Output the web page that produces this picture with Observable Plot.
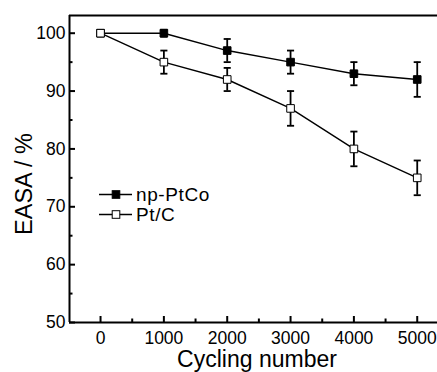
<!DOCTYPE html>
<html>
<head>
<meta charset="utf-8">
<script src="https://cdn.jsdelivr.net/npm/d3@7"></script>
<script src="https://cdn.jsdelivr.net/npm/@observablehq/plot@0.6"></script>
<style>
  html, body { margin: 0; padding: 0; background: #fff; }
  #chart svg { display: block; }
</style>
</head>
<body>
<div id="chart"></div>
<script>
// ---- data ----
const cycles   = [0, 1000, 2000, 3000, 4000, 5000];
const ptcoVals = [100, 100, 97, 95, 93, 92];
const ptcoErr  = [0, 0.6, 2, 2, 2, 3];
const ptcVals  = [100, 95, 92, 87, 80, 75];
const ptcErr   = [0, 2, 2, 3, 3, 3];
const seriesNames = ["np-PtCo", "Pt/C"];
const xTicks = [0, 1000, 2000, 3000, 4000, 5000];
const xMinor = [500, 1500, 2500, 3500, 4500];
const yTicks = [50, 60, 70, 80, 90, 100];
const yMinor = [55, 65, 75, 85, 95];
const xLabel = "Cycling number";
const yLabel = "EASA / %";

const font = "'Liberation Sans', Arial, Helvetica, sans-serif";

const rows = [];
cycles.forEach((c, i) => {
  rows.push({series: seriesNames[0], x: c, y: ptcoVals[i], e: ptcoErr[i]});
});
cycles.forEach((c, i) => {
  rows.push({series: seriesNames[1], x: c, y: ptcVals[i], e: ptcErr[i]});
});
const errRows = rows.filter(d => d.e > 0);

const capSymbol = {
  draw(context, size) {
    const w = Math.sqrt(size);
    context.moveTo(-w / 2, 0);
    context.lineTo(w / 2, 0);
  }
};

const W = 437, H = 372, mL = 69, mR = 0, mT = 15, mB = 50;
const plotW = W - mL - mR, plotH = H - mT - mB;
const xDomain = [-490, 5320];
const yDomain = [50, 103.06];
const majorLen = 6, minorLen = 3.5;

const chart = Plot.plot({
  width: W,
  height: H,
  marginLeft: mL,
  marginRight: mR,
  marginTop: mT,
  marginBottom: mB,
  style: {fontFamily: font, background: "#fff", color: "#000"},
  x: {domain: xDomain, label: null},
  y: {domain: yDomain, label: null},
  marks: [
    // inward ticks (rules inset to a short stub at the frame)
    Plot.ruleX(xTicks, {x: d => d, insetTop: plotH - majorLen, stroke: "#000", strokeWidth: 2}),
    Plot.ruleX(xMinor, {x: d => d, insetTop: plotH - minorLen, stroke: "#000", strokeWidth: 2}),
    Plot.ruleY(yTicks, {y: d => d, insetRight: plotW - majorLen, stroke: "#000", strokeWidth: 2}),
    Plot.ruleY(yMinor, {y: d => d, insetRight: plotW - minorLen, stroke: "#000", strokeWidth: 2}),
    // frame (left, top, bottom)
    Plot.ruleY([yDomain[0]], {stroke: "#000", strokeWidth: 2}),
    Plot.ruleY([yDomain[1]], {stroke: "#000", strokeWidth: 2}),
    Plot.ruleX([xDomain[0]], {stroke: "#000", strokeWidth: 2}),
    // tick labels
    Plot.axisX({ticks: xTicks, tickSize: 0, tickPadding: 9, fontSize: 17.5, tickFormat: d => String(d), label: null}),
    Plot.axisY({ticks: yTicks, tickSize: 0, tickPadding: 4, fontSize: 17.5, tickFormat: d => String(d), label: null}),
    // error bars
    Plot.ruleX(errRows, {x: "x", y1: d => d.y - d.e, y2: d => d.y + d.e, stroke: "#000", strokeWidth: 1.8}),
    Plot.dot(errRows, {x: "x", y: d => d.y - d.e, symbol: capSymbol, r: 4, fill: "none", stroke: "#000", strokeWidth: 1.8}),
    Plot.dot(errRows, {x: "x", y: d => d.y + d.e, symbol: capSymbol, r: 4, fill: "none", stroke: "#000", strokeWidth: 1.8}),
    // lines
    Plot.line(rows, {x: "x", y: "y", z: "series", stroke: "#000", strokeWidth: 1.4}),
    // markers
    Plot.dot(rows, {x: "x", y: "y", symbol: "square", r: 4.3,
      fill: d => d.series === seriesNames[0] ? "#000" : "#fff", stroke: "#000", strokeWidth: 1})
  ]
});

const svg = d3.select(chart);
// axis titles
svg.append("text")
  .attr("x", 257).attr("y", 367)
  .attr("text-anchor", "middle")
  .attr("font-family", font).attr("font-size", 23)
  .attr("fill", "#000")
  .text(xLabel);
svg.append("text")
  .attr("transform", "translate(32,184) rotate(-90)")
  .attr("text-anchor", "middle")
  .attr("font-family", font).attr("font-size", 23.5)
  .attr("fill", "#000")
  .text(yLabel);

// legend
const legendY = [194.5, 214.5];
seriesNames.forEach((name, i) => {
  const g = svg.append("g");
  g.append("line").attr("x1", 99).attr("x2", 132)
    .attr("y1", legendY[i]).attr("y2", legendY[i])
    .attr("stroke", "#000").attr("stroke-width", 1.4);
  g.append("rect").attr("x", 116 - 3.8).attr("y", legendY[i] - 3.8)
    .attr("width", 7.6).attr("height", 7.6)
    .attr("fill", i === 0 ? "#000" : "#fff").attr("stroke", "#000").attr("stroke-width", 1);
  g.append("text").attr("x", 136).attr("y", legendY[i])
    .attr("dy", "0.36em")
    .attr("text-anchor", "start")
    .attr("font-family", font).attr("font-size", 19)
    .attr("letter-spacing", 0.6)
    .attr("fill", "#000")
    .text(name);
});

document.getElementById("chart").appendChild(chart);
</script>
</body>
</html>
